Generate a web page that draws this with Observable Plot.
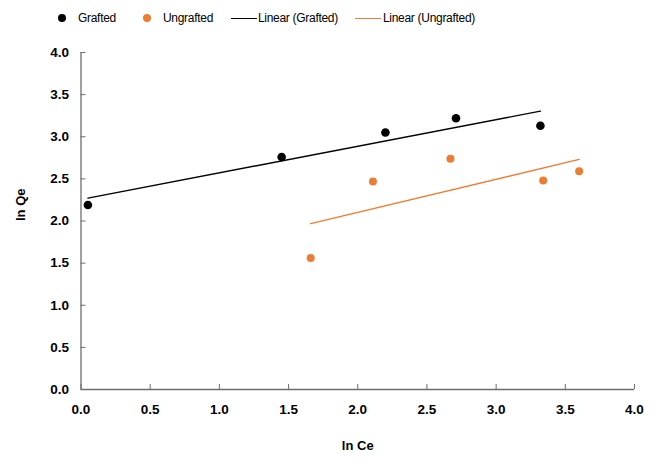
<!DOCTYPE html>
<html>
<head>
<meta charset="utf-8">
<script src="https://cdn.jsdelivr.net/npm/d3@7"></script>
<script src="https://cdn.jsdelivr.net/npm/@observablehq/plot@0.6"></script>
<style>
  html, body { margin: 0; padding: 0; background: #fff; }
  #wrap { width: 658px; font-family: "Liberation Sans", Arial, sans-serif; }
  #legend { position: relative; height: 35px; font-size: 12px; letter-spacing: -0.3px; color: #000; }
  #legend .it { position: absolute; top: 10px; line-height: 16px; white-space: nowrap; }
  #legend .dot { position: absolute; width: 8px; height: 8px; border-radius: 50%; top: 14px; }
  #legend .ln { position: absolute; height: 0; top: 18px; border-top: 1.4px solid; }
</style>
</head>
<body>
<div id="wrap">
  <div id="legend"></div>
  <div id="chart"></div>
</div>
<script>
// Data
const graftedX = [0.05, 1.45, 2.20, 2.71, 3.32];
const graftedY = [2.19, 2.76, 3.05, 3.22, 3.13];
const ungraftedX = [1.66, 2.11, 2.67, 3.34, 3.60];
const ungraftedY = [1.56, 2.47, 2.74, 2.48, 2.59];
const seriesNames = ["Grafted", "Ungrafted", "Linear (Grafted)", "Linear (Ungrafted)"];
const xTicks = [0, 0.5, 1, 1.5, 2, 2.5, 3, 3.5, 4];
const yTicks = [0, 0.5, 1, 1.5, 2, 2.5, 3, 3.5, 4];
const xLabel = "ln Ce";
const yLabel = "ln Qe";

const colors = {grafted: "#000000", ungrafted: "#ED7D31"};

const grafted = graftedX.map((x, i) => ({x, y: graftedY[i]}));
const ungrafted = ungraftedX.map((x, i) => ({x, y: ungraftedY[i]}));

// Legend
const legend = document.getElementById("legend");
function add(html) { legend.insertAdjacentHTML("beforeend", html); }
add(`<span class="dot" style="left:58px;background:${colors.grafted}"></span>`);
add(`<span class="it" style="left:78px">${seriesNames[0]}</span>`);
add(`<span class="dot" style="left:143px;background:${colors.ungrafted}"></span>`);
add(`<span class="it" style="left:163px">${seriesNames[1]}</span>`);
add(`<span class="ln" style="left:231px;width:26px;border-color:${colors.grafted}"></span>`);
add(`<span class="it" style="left:258px">${seriesNames[2]}</span>`);
add(`<span class="ln" style="left:355px;width:26px;border-color:${colors.ungrafted}"></span>`);
add(`<span class="it" style="left:383px">${seriesNames[3]}</span>`);

const axisColor = "#6e6e6e";
const chart = Plot.plot({
  width: 658,
  height: 424,
  marginLeft: 80.5,
  marginRight: 24,
  marginTop: 17,
  marginBottom: 70,
  style: {fontFamily: "Liberation Sans, Arial, sans-serif", background: "#fff"},
  x: {domain: [0, 4]},
  y: {domain: [0, 4]},
  marks: [
    Plot.ruleY([0], {stroke: axisColor, strokeWidth: 1.3}),
    Plot.ruleX([0], {stroke: axisColor, strokeWidth: 1.3}),
    Plot.axisX(xTicks, {tickSize: -5, stroke: axisColor, tickPadding: 20, fontSize: 13.5, fontWeight: "bold", fill: "#000", label: null, tickFormat: d3.format(".1f")}),
    Plot.axisY(yTicks, {tickSize: -5, stroke: axisColor, tickPadding: 17, fontSize: 13.5, fontWeight: "bold", fill: "#000", label: null, tickFormat: d3.format(".1f")}),
    Plot.text([xLabel], {frameAnchor: "bottom", dy: 60, fontSize: 13, fontWeight: "bold", fill: "#000"}),
    Plot.text([yLabel], {frameAnchor: "left", dx: -60, rotate: -90, fontSize: 13, fontWeight: "bold", fill: "#000"}),
    Plot.linearRegressionY(grafted, {x: "x", y: "y", ci: 0, stroke: colors.grafted, strokeWidth: 1.4}),
    Plot.linearRegressionY(ungrafted, {x: "x", y: "y", ci: 0, stroke: colors.ungrafted, strokeWidth: 1.4}),
    Plot.dot(grafted, {x: "x", y: "y", r: 4.3, fill: colors.grafted}),
    Plot.dot(ungrafted, {x: "x", y: "y", r: 4, fill: colors.ungrafted})
  ]
});
document.getElementById("chart").appendChild(chart);
</script>
</body>
</html>
